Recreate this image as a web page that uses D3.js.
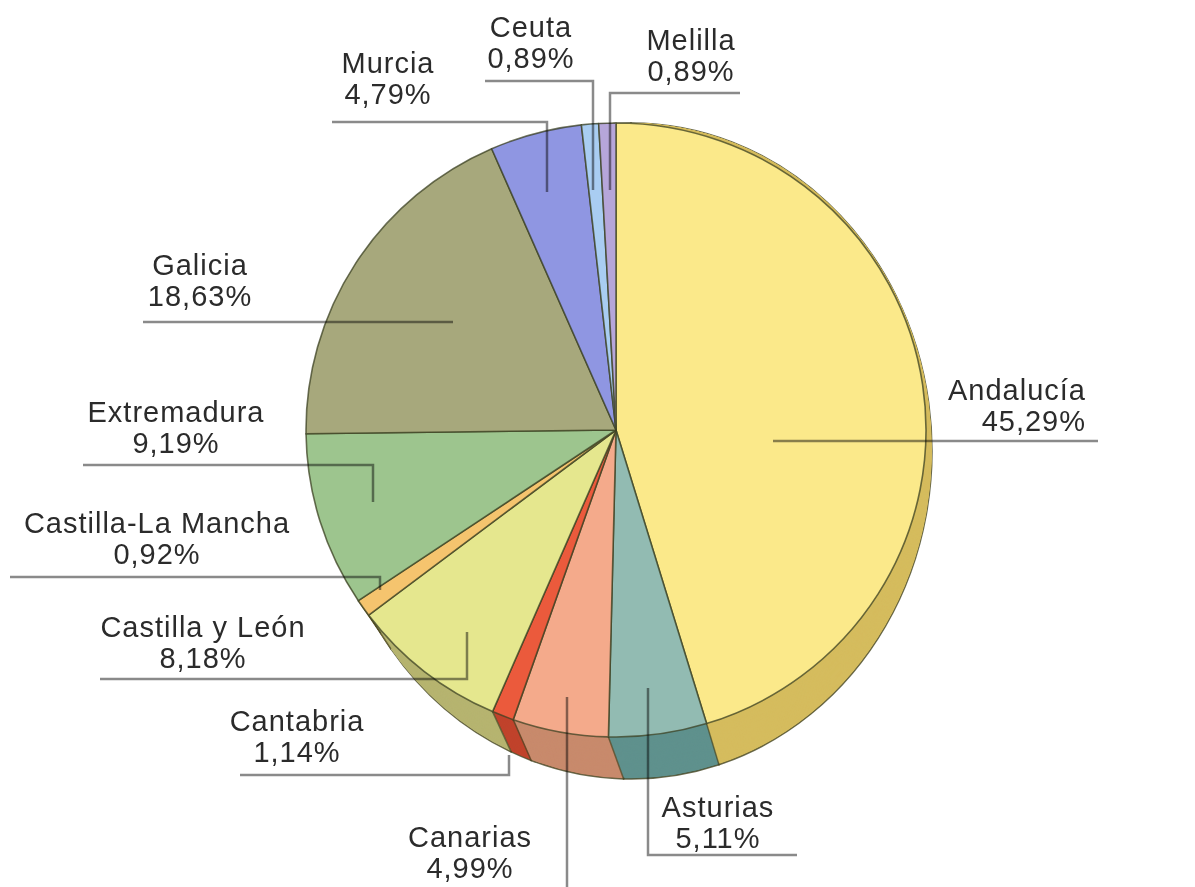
<!DOCTYPE html>
<html>
<head>
<meta charset="utf-8">
<script src="https://cdn.jsdelivr.net/npm/d3@7"></script>
<style>
  html, body { margin: 0; padding: 0; background: #ffffff; }
  svg { display: block; }
  .lbl { font-family: "Liberation Sans", Arial, sans-serif; font-size: 29px; fill: #2b2b2b; letter-spacing: 1px; }
  .leader { fill: none; stroke: #8a8a8a; stroke-width: 2.5; mix-blend-mode: multiply; }
</style>
</head>
<body>
<script>
// ---- data ----
const categories = ["Andalucía", "Asturias", "Canarias", "Cantabria", "Castilla y León",
  "Castilla-La Mancha", "Extremadura", "Galicia", "Murcia", "Ceuta", "Melilla"];
const values = [45.29, 5.11, 4.99, 1.14, 8.18, 0.92, 9.19, 18.63, 4.79, 0.89, 0.89];

// ---- styles ----
const topColors = ["#fbe98a", "#92bbb2", "#f4aa8b", "#eb5a3c", "#e5e78e",
  "#f5c46e", "#9dc58e", "#a7a87c", "#8f96e2", "#a9cdf2", "#b6a6da"];
const sideColors = ["#d5bc5e", "#5f918d", "#c88a6c", "#c0432c", "#b6b470",
  "#d09a48", "#7ba571", "#868760", "#6c72b8", "#85a5c8", "#9080b4"];

// label layout: text x, first baseline y, anchor, leader polyline
const labelLayout = [
  { x: 1086, y: 400, anchor: "end",    leader: [[1098, 441], [773, 441]] },
  { x: 718,  y: 817, anchor: "middle", leader: [[797, 855], [648, 855], [648, 688]] },
  { x: 470,  y: 847, anchor: "middle", leader: [[567, 890], [567, 697]] },
  { x: 297,  y: 731, anchor: "middle", leader: [[240, 775], [509, 775], [509, 755]] },
  { x: 203,  y: 637, anchor: "middle", leader: [[100, 679], [467, 679], [467, 632]] },
  { x: 157,  y: 533, anchor: "middle", leader: [[10, 577], [380, 577], [380, 590]] },
  { x: 176,  y: 422, anchor: "middle", leader: [[83, 465], [373, 465], [373, 502]] },
  { x: 200,  y: 275, anchor: "middle", leader: [[143, 322], [453, 322]] },
  { x: 388,  y: 73,  anchor: "middle", leader: [[332, 122], [547, 122], [547, 192]] },
  { x: 531,  y: 37,  anchor: "middle", leader: [[485, 81], [593, 81], [593, 190]] },
  { x: 691,  y: 50,  anchor: "middle", leader: [[740, 93], [610, 93], [610, 190]] }
];

const W = 1195, H = 887;
const cx = 616, cy = 430, R = 307, rx = 310, ry = 307;
// bottom face geometry (perspective-like extrusion)
const bx = 15, by = 21, ex = -9, ey = 21;

const svg = d3.select("body").append("svg").attr("width", W).attr("height", H);

const pie = d3.pie().sort(null).value(d => d)(values);
const arc = d3.arc().innerRadius(0).outerRadius(R);

const sideG = svg.append("g");
const N = 40;
for (let k = N; k >= 1; k--) {
  const t = k / N;
  const layer = sideG.append("g")
    .attr("transform", `translate(${cx + bx * t},${cy + by * t}) scale(${(rx + ex * t) / R},${(ry + ey * t) / R})`);
  layer.selectAll("path")
    .data(pie)
    .join("path")
    .attr("d", arc)
    .attr("fill", (d, i) => sideColors[i])
    .attr("stroke", k === N ? "rgba(70,70,35,0.8)" : "none")
    .attr("stroke-width", 1.5)
    .attr("vector-effect", "non-scaling-stroke");
}
// slice edges on the side walls
const edgeG = sideG.append("g");
pie.forEach(d => {
  const a = d.startAngle;
  if (a < Math.PI / 2 || a > 1.5 * Math.PI) return;
  const x0 = cx + rx * Math.sin(a), y0 = cy - ry * Math.cos(a);
  const x1 = cx + bx + (rx + ex) * Math.sin(a), y1 = cy + by - (ry + ey) * Math.cos(a);
  edgeG.append("line").attr("x1", x0).attr("y1", y0).attr("x2", x1).attr("y2", y1)
    .attr("stroke", "rgba(70,70,35,0.7)").attr("stroke-width", 1.5);
});

// top faces
svg.append("g")
  .attr("transform", `translate(${cx},${cy}) scale(${rx / R},${ry / R})`)
  .selectAll("path")
  .data(pie)
  .join("path")
  .attr("d", arc)
  .attr("fill", (d, i) => topColors[i])
  .attr("stroke", "rgba(60,65,35,0.75)")
  .attr("stroke-width", 1.6)
  .attr("stroke-linejoin", "round")
  .attr("vector-effect", "non-scaling-stroke");

// leaders
const line = d3.line();
svg.append("g").selectAll("path")
  .data(labelLayout)
  .join("path")
  .attr("class", "leader")
  .attr("d", d => line(d.leader));

// labels
const fmt = v => d3.format(".2f")(v).replace(".", ",") + "%";
const lg = svg.append("g");
categories.forEach((c, i) => {
  const L = labelLayout[i];
  const t = lg.append("text").attr("class", "lbl").attr("text-anchor", L.anchor);
  t.append("tspan").attr("x", L.x).attr("y", L.y).text(c);
  t.append("tspan").attr("x", L.x).attr("y", L.y + 31).text(fmt(values[i]));
});
</script>
</body>
</html>
